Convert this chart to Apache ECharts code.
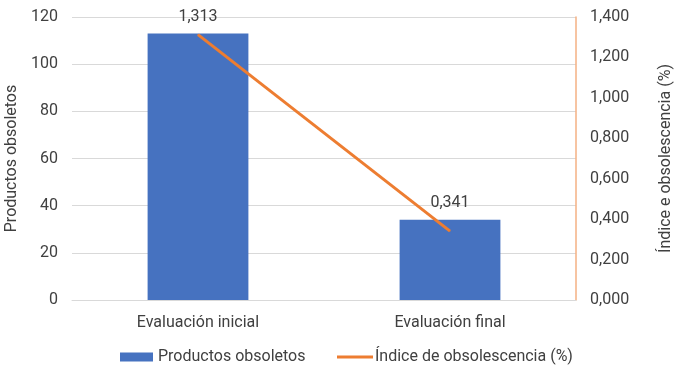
<!DOCTYPE html>
<html><head><meta charset="utf-8">
<script src="https://cdn.jsdelivr.net/npm/echarts@6/dist/echarts.min.js"></script>
<style>html,body{margin:0;padding:0;background:#fff}#c{width:676px;height:371px}</style>
</head><body><div id="c"></div>
<script>
const categories = ["Evaluación inicial", "Evaluación final"];
const productosObsoletos = [113, 34];
const indiceObsolescencia = [1.313, 0.341];
const leftTicks = [0, 20, 40, 60, 80, 100, 120];
const rightTicks = [0, 0.2, 0.4, 0.6, 0.8, 1.0, 1.2, 1.4];

const fmt3 = v => v.toFixed(3).replace('.', ',');
const txt = '#404040';
const font = 'Roboto';
const fs = 16;
const labelDistances = [9, 20];
const chart = echarts.init(document.getElementById('c'));
chart.setOption({
  animation: false,
  textStyle: {fontFamily: font},
  grid: {left: 72, right: 100, top: 17, bottom: 71, outerBoundsMode: 'none', containLabel: false},
  legend: [{
    bottom: 6, left: 120, padding: 0, itemGap: 30, itemWidth: 33, itemHeight: 9,
    textStyle: {color: txt, fontSize: fs, fontFamily: font},
    data: [{name: 'Productos obsoletos', icon: 'rect'}]
  }, {
    bottom: 6, left: 337, padding: 0, itemWidth: 36, itemHeight: 3, itemGap: 30,
    textStyle: {color: txt, fontSize: fs, fontFamily: font, padding: [0, 0, 0, -3]},
    data: [{name: 'Índice de obsolescencia (%)', icon: 'rect'}]
  }],
  xAxis: {
    type: 'category', data: categories,
    axisLine: {lineStyle: {color: '#d9d9d9'}},
    axisTick: {show: false},
    axisLabel: {color: txt, fontSize: fs, margin: 15, fontFamily: font}
  },
  yAxis: [{
    type: 'value', min: leftTicks[0], max: leftTicks[leftTicks.length - 1], interval: 20,
    name: 'Productos obsoletos', nameLocation: 'middle', nameRotate: 90, nameGap: 47,
    nameTextStyle: {color: txt, fontSize: fs, fontFamily: font},
    axisLine: {show: false}, axisTick: {show: false},
    axisLabel: {color: txt, fontSize: fs, margin: 14, fontFamily: font},
    splitLine: {lineStyle: {color: '#d9d9d9'}}
  }, {
    type: 'value', min: rightTicks[0], max: rightTicks[rightTicks.length - 1], interval: 0.2,
    position: 'right',
    name: 'Índice e obsolescencia (%)', nameLocation: 'middle', nameRotate: 90, nameGap: 82,
    nameTextStyle: {color: txt, fontSize: fs, fontFamily: font},
    axisLine: {show: true, lineStyle: {color: '#F4B183', width: 1.5}}, axisTick: {show: false},
    axisLabel: {color: txt, fontSize: fs, margin: 14, fontFamily: font, formatter: fmt3},
    splitLine: {show: false}
  }],
  series: [{
    name: 'Productos obsoletos', type: 'bar', data: productosObsoletos,
    barWidth: '40%', itemStyle: {color: '#4672C0'}
  }, {
    name: 'Índice de obsolescencia (%)', type: 'line', yAxisIndex: 1,
    data: indiceObsolescencia.map((v, i) => ({value: v, label: {distance: labelDistances[i]}})),
    symbol: 'circle', symbolSize: 1, showSymbol: true,
    lineStyle: {color: '#ED7D31', width: 3}, itemStyle: {color: '#ED7D31'},
    label: {show: true, position: 'top', color: txt, fontSize: fs, fontFamily: font, formatter: p => fmt3(p.value)}
  }]
});
</script></body></html>
